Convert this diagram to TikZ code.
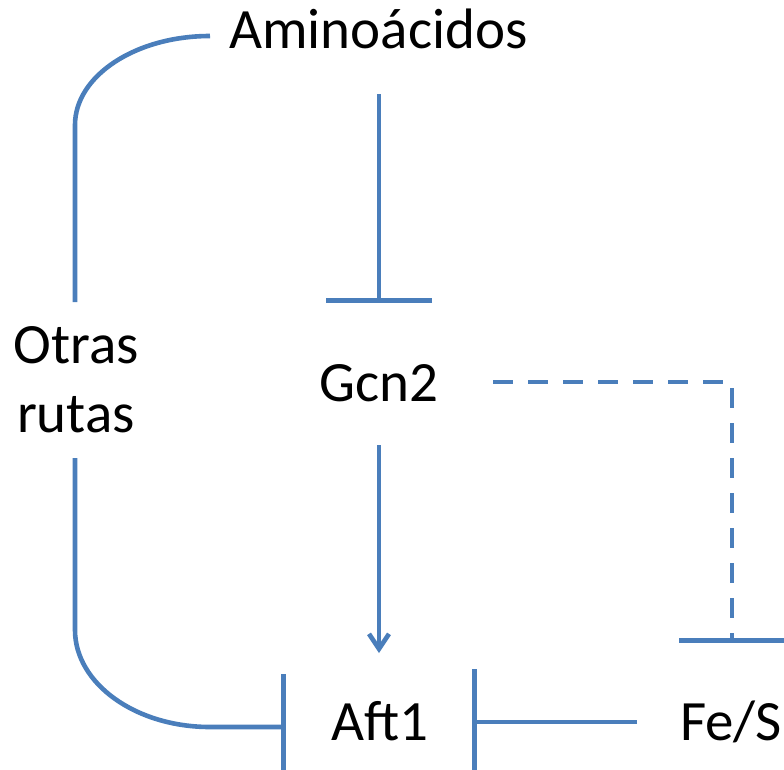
\documentclass[tikz,border=0pt]{standalone}
\usepackage{fontspec}
\setmainfont{Carlito}
\usetikzlibrary{arrows.meta}
\definecolor{lblue}{RGB}{74,126,187}
\begin{document}
\begin{tikzpicture}[x=1pt,y=-1pt,
  lbl/.style={font=\fontsize{57}{69}\selectfont, inner sep=0pt, anchor=base},
  conn/.style={draw=lblue, line width=4.6pt},
  inhib/.style={conn, -{Bar[width=106pt]}},
  act/.style={conn, -{Straight Barb[length=15pt,width=20pt]}},
  dashline/.style={dash pattern=on 20pt off 15pt},
]
\useasboundingbox (0,0) rectangle (784,769);
\clip (0,0) rectangle (784,769);
% nodes
\node[lbl] (amino) at (378.5,48) {Aminoácidos};
\node[lbl] (gcn) at (379,401) {Gcn2};
\node[lbl, align=center] (otras) at (76,432) {Otras\\rutas};
\node[lbl] (aft) at (380,740) {Aft1};
\node[lbl] (fes) at (731,740) {Fe/S};
% connector ends
\coordinate (aminoL) at (210,36);
\coordinate (otrasT) at (75,302);
\coordinate (otrasB) at (75,458);
\coordinate (aftL) at (286,727);
\coordinate (aftR) at (472,722);
\coordinate (fesL) at (637,722);
\coordinate (aminoB) at (379,94);
\coordinate (gcnT) at (379,303);
\coordinate (gcnB) at (379,445);
\coordinate (aftT) at (379,653);
\coordinate (gcnR) at (493,382);
\coordinate (fesT) at (732,643);
% connectors
\draw[conn] (aminoL) .. controls (135.5,36) and (75,75.9) .. (75,125) -- (otrasT);
\draw[inhib] (otrasB) -- (75,630) .. controls (75,683.5) and (135.5,727) .. (210,727) -- (aftL);
\draw[inhib] (aminoB) -- (gcnT);
\draw[act] (gcnB) -- (aftT);
\draw[inhib] (fesL) -- (aftR);
\draw[inhib, dashline] (gcnR) -| (fesT);
\end{tikzpicture}
\end{document}
